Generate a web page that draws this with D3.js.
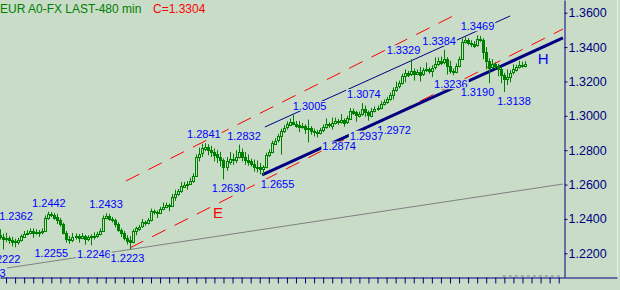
<!DOCTYPE html>
<html>
<head>
<meta charset="utf-8">
<script src="https://cdn.jsdelivr.net/npm/d3@7"></script>
<style>
  body { margin: 0; background: #c8dcc8; }
  svg { display: block; }
  text { font-family: "Liberation Sans", Arial, sans-serif; }
</style>
</head>
<body>
<svg id="chart" width="620" height="290"></svg>
<script>
// 8-hour EUR bars, one per 8h session (index = bar number)
var opens = [1.2305,1.2295,1.2285,1.2290,1.2280,1.2270,1.2265,1.2275,1.2300,1.2315,
1.2320,1.2330,1.2318,1.2325,1.2322,1.2330,1.2405,1.2430,1.2425,1.2410,
1.2395,1.2370,1.2320,1.2285,1.2280,1.2295,1.2300,1.2290,1.2300,1.2285,
1.2295,1.2300,1.2298,1.2310,1.2330,1.2405,1.2415,1.2400,1.2395,1.2370,
1.2335,1.2320,1.2290,1.2275,1.2265,1.2330,1.2345,1.2355,1.2380,1.2375,
1.2395,1.2445,1.2440,1.2435,1.2460,1.2470,1.2480,1.2475,1.2530,1.2545,
1.2560,1.2590,1.2600,1.2605,1.2620,1.2650,1.2760,1.2780,1.2810,1.2820,
1.2800,1.2790,1.2775,1.2760,1.2740,1.2700,1.2735,1.2750,1.2745,1.2760,
1.2790,1.2760,1.2745,1.2735,1.2720,1.2705,1.2700,1.2690,1.2700,1.2770,
1.2790,1.2840,1.2855,1.2880,1.2910,1.2930,1.2950,1.2965,1.2955,1.2945,
1.2935,1.2940,1.2925,1.2930,1.2910,1.2905,1.2900,1.2915,1.2935,1.2950,
1.2945,1.2960,1.2970,1.2965,1.2975,1.2960,1.2985,1.3030,1.3020,1.3000,
1.3010,1.3040,1.3020,1.3000,1.3030,1.3040,1.3045,1.3070,1.3080,1.3095,
1.3120,1.3150,1.3170,1.3190,1.3230,1.3250,1.3240,1.3260,1.3245,1.3255,
1.3240,1.3265,1.3270,1.3260,1.3280,1.3300,1.3320,1.3310,1.3330,1.3290,
1.3260,1.3255,1.3290,1.3330,1.3430,1.3440,1.3425,1.3420,1.3410,1.3445,
1.3440,1.3370,1.3320,1.3280,1.3300,1.3290,1.3275,1.3240,1.3215,1.3225,
1.3250,1.3270,1.3285,1.3295,1.3290];

var highs = [1.2340,1.2315,1.2320,1.2300,1.2295,1.2285,1.2290,1.2310,1.2330,1.2335,
1.2345,1.2345,1.2340,1.2335,1.2345,1.2420,1.2442,1.2440,1.2435,1.2430,
1.2405,1.2378,1.2330,1.2300,1.2318,1.2315,1.2312,1.2318,1.2308,1.2305,
1.2310,1.2322,1.2325,1.2345,1.2420,1.2433,1.2430,1.2412,1.2402,1.2380,
1.2345,1.2330,1.2305,1.2300,1.2340,1.2355,1.2365,1.2400,1.2390,1.2405,
1.2460,1.2455,1.2450,1.2470,1.2495,1.2495,1.2490,1.2545,1.2570,1.2575,
1.2615,1.2615,1.2620,1.2640,1.2665,1.2775,1.2815,1.2838,1.2841,1.2835,
1.2825,1.2810,1.2800,1.2790,1.2752,1.2760,1.2790,1.2780,1.2800,1.2832,
1.2810,1.2790,1.2775,1.2750,1.2745,1.2740,1.2725,1.2712,1.2785,1.2805,
1.2855,1.2870,1.2895,1.2925,1.2945,1.2968,1.2985,1.3005,1.2970,1.2970,
1.2958,1.2950,1.2978,1.2940,1.2925,1.2918,1.2930,1.2950,1.2985,1.2962,
1.2990,1.2990,1.2982,1.3010,1.2985,1.3000,1.3045,1.3042,1.3030,1.3025,
1.3074,1.3060,1.3030,1.3045,1.3055,1.3060,1.3085,1.3095,1.3110,1.3135,
1.3165,1.3200,1.3205,1.3245,1.3270,1.3262,1.3329,1.3275,1.3270,1.3285,
1.3280,1.3310,1.3282,1.3295,1.3340,1.3340,1.3345,1.3384,1.3342,1.3320,
1.3275,1.3305,1.3345,1.3450,1.3458,1.3452,1.3440,1.3435,1.3469,1.3465,
1.3452,1.3400,1.3335,1.3330,1.3312,1.3302,1.3285,1.3250,1.3270,1.3265,
1.3300,1.3298,1.3320,1.3315,1.3318];

var lows = [1.2280,1.2222,1.2265,1.2255,1.2240,1.2235,1.2250,1.2268,1.2290,1.2305,
1.2310,1.2290,1.2308,1.2295,1.2310,1.2325,1.2395,1.2410,1.2395,1.2370,
1.2355,1.2310,1.2262,1.2255,1.2265,1.2280,1.2262,1.2282,1.2250,1.2270,
1.2246,1.2280,1.2290,1.2305,1.2325,1.2398,1.2390,1.2380,1.2350,1.2325,
1.2295,1.2275,1.2250,1.2223,1.2258,1.2305,1.2330,1.2348,1.2360,1.2368,
1.2385,1.2425,1.2405,1.2428,1.2450,1.2462,1.2445,1.2470,1.2505,1.2535,
1.2552,1.2580,1.2570,1.2598,1.2610,1.2645,1.2735,1.2760,1.2795,1.2770,
1.2760,1.2735,1.2725,1.2705,1.2630,1.2680,1.2715,1.2715,1.2725,1.2752,
1.2735,1.2715,1.2710,1.2705,1.2675,1.2670,1.2660,1.2655,1.2695,1.2760,
1.2782,1.2830,1.2845,1.2775,1.2900,1.2920,1.2940,1.2945,1.2930,1.2905,
1.2925,1.2895,1.2845,1.2890,1.2880,1.2874,1.2892,1.2905,1.2925,1.2930,
1.2920,1.2950,1.2948,1.2955,1.2937,1.2952,1.2978,1.3005,1.2965,1.2990,
1.3000,1.2995,1.2972,1.2992,1.3020,1.3030,1.3038,1.3060,1.3070,1.3088,
1.3095,1.3140,1.3160,1.3182,1.3195,1.3225,1.3232,1.3205,1.3238,1.3200,
1.3232,1.3255,1.3245,1.3225,1.3270,1.3290,1.3295,1.3300,1.3240,1.3245,
1.3236,1.3248,1.3282,1.3325,1.3420,1.3410,1.3400,1.3395,1.3402,1.3430,
1.3330,1.3270,1.3190,1.3270,1.3272,1.3230,1.3190,1.3138,1.3180,1.3195,
1.3240,1.3258,1.3275,1.3280,1.3282];

var closes = [1.2295,1.2285,1.2290,1.2280,1.2270,1.2265,1.2275,1.2300,1.2315,1.2320,
1.2330,1.2318,1.2325,1.2322,1.2330,1.2405,1.2430,1.2425,1.2410,1.2395,
1.2370,1.2320,1.2285,1.2280,1.2295,1.2300,1.2290,1.2300,1.2285,1.2295,
1.2300,1.2298,1.2310,1.2330,1.2405,1.2415,1.2400,1.2395,1.2370,1.2335,
1.2320,1.2290,1.2275,1.2265,1.2330,1.2345,1.2355,1.2380,1.2375,1.2395,
1.2445,1.2440,1.2435,1.2460,1.2470,1.2480,1.2475,1.2530,1.2545,1.2560,
1.2590,1.2600,1.2605,1.2620,1.2650,1.2760,1.2780,1.2810,1.2820,1.2800,
1.2790,1.2775,1.2760,1.2740,1.2700,1.2735,1.2750,1.2745,1.2760,1.2790,
1.2760,1.2745,1.2735,1.2720,1.2705,1.2700,1.2690,1.2700,1.2770,1.2790,
1.2840,1.2855,1.2880,1.2910,1.2930,1.2950,1.2965,1.2955,1.2945,1.2935,
1.2940,1.2925,1.2930,1.2910,1.2905,1.2900,1.2915,1.2935,1.2950,1.2945,
1.2960,1.2970,1.2965,1.2975,1.2960,1.2985,1.3030,1.3020,1.3000,1.3010,
1.3040,1.3020,1.3000,1.3030,1.3040,1.3045,1.3070,1.3080,1.3095,1.3120,
1.3150,1.3170,1.3190,1.3230,1.3250,1.3240,1.3260,1.3245,1.3255,1.3240,
1.3265,1.3270,1.3260,1.3280,1.3300,1.3320,1.3310,1.3330,1.3290,1.3260,
1.3255,1.3290,1.3330,1.3430,1.3440,1.3425,1.3420,1.3410,1.3445,1.3440,
1.3370,1.3320,1.3280,1.3300,1.3290,1.3275,1.3240,1.3215,1.3225,1.3250,
1.3270,1.3285,1.3295,1.3290,1.3304];

// right axis ticks
var priceTicks = [1.22, 1.24, 1.26, 1.28, 1.30, 1.32, 1.34, 1.36];

// swing labels: value and the bar they sit on
var highLabels = [1.2362, 1.2442, 1.2433, 1.2841, 1.2832, 1.3005, 1.3074, 1.3329, 1.3384, 1.3469];
var highLabelBars = [5.3, 16.2, 35.1, 67.5, 80.8, 102.5, 120.5, 133.6, 145.4, 158.1];
var lowLabels = [1.2222, 1.2255, 1.2246, 1.2223, 1.2630, 1.2655, 1.2874, 1.2972, 1.2937, 1.3236, 1.3190, 1.3138];
var lowLabelBars = [1.2, 17, 31.1, 42.2, 75.7, 91.9, 112.3, 130.5, 121.4, 149.3, 158.1, 170.2];

// drawn trend lines, [start bar, end bar] and [start price, end price]
var upperRedBars = [41.7, 150], upperRedPrices = [1.2621, 1.3581];
var lowerRedBars = [43, 186.4], lowerRedPrices = [1.2231, 1.3505];
var thickBlueBars = [86.8, 186.4], thickBluePrices = [1.2656, 1.3453];
var thinBlueBars = [87.7, 168.9], thinBluePrices = [1.2935, 1.3581];
var grayBars = [2.3, 186.4], grayPrices = [1.2114, 1.2603];
var bottomDashBars = [166.5, 185.4], bottomDashPrices = [1.2068, 1.2068];

var bg = "#c8dcc8";
var barGreen = "#008000";
var plotRight = 564, plotBottom = 277, frameRight = 617;

var svg = d3.select("#chart");
svg.append("rect").attr("width", 620).attr("height", 290).attr("fill", bg);

var x = d3.scaleLinear().domain([0, 204.3]).range([0, frameRight]);
var y = d3.scaleLinear().domain([1.2062, 1.3674]).range([plotBottom, 0]);

svg.append("clipPath").attr("id", "plotClip")
    .append("rect").attr("x", 0).attr("y", 0).attr("width", plotRight).attr("height", plotBottom);

var plot = svg.append("g").attr("clip-path", "url(#plotClip)");

function drawLine(bars, prices, color, width, dash){
    var pts = [[bars[0], prices[0]], [bars[1], prices[1]]];
    plot.append("path")
        .attr("d", d3.line().x(function(d){ return x(d[0]); }).y(function(d){ return y(d[1]); })(pts))
        .attr("fill", "none")
        .attr("stroke", color)
        .attr("stroke-width", width)
        .attr("stroke-dasharray", dash);
}

// trend lines
drawLine(grayBars, grayPrices, "#808080", 1, null);
drawLine(bottomDashBars, bottomDashPrices, "#808080", 1, "3,3");
drawLine(upperRedBars, upperRedPrices, "#ff0000", 1, "15,10");
drawLine(lowerRedBars, lowerRedPrices, "#ff0000", 1, "15,10");
drawLine(thinBlueBars, thinBluePrices, "#000080", 1, null);
drawLine(thickBlueBars, thickBluePrices, "#000080", 3, null);

// candles: wick, then body (up candles hollow, down candles filled)
var bars = closes.map(function(c, i){ return {i: i, o: opens[i], h: highs[i], l: lows[i], c: c}; });
function cx(d){ return Math.round(x(d.i)); }

plot.selectAll(".wick")
    .data(bars)
    .enter().append("line")
    .attr("class", "wick")
    .attr("x1", function(d){ return cx(d) + 0.5; })
    .attr("x2", function(d){ return cx(d) + 0.5; })
    .attr("y1", function(d){ return y(d.h); })
    .attr("y2", function(d){ return y(d.l); })
    .attr("stroke", barGreen)
    .attr("stroke-width", 1);

plot.selectAll(".body")
    .data(bars)
    .enter().append("rect")
    .attr("class", "body")
    .attr("x", function(d){ return cx(d) - 0.5; })
    .attr("y", function(d){ return Math.round(y(Math.max(d.o, d.c))) + 0.5; })
    .attr("width", 2)
    .attr("height", function(d){ return Math.max(1, Math.round(Math.abs(y(d.o) - y(d.c)))); })
    .attr("fill", function(d){ return d.c >= d.o ? bg : barGreen; })
    .attr("stroke", barGreen)
    .attr("stroke-width", 1);

// label helper: text with a background box that hides the lines under it
function boxedText(parent, tx, ty, str, color, size, anchor){
    var g = parent.append("g");
    var r = g.append("rect").attr("fill", bg);
    var t = g.append("text")
        .attr("x", tx).attr("y", ty)
        .attr("text-anchor", anchor)
        .attr("font-size", size)
        .attr("fill", color)
        .text(str);
    var bb = t.node().getBBox();
    r.attr("x", bb.x - 1).attr("y", bb.y + 1).attr("width", bb.width + 2).attr("height", bb.height - 2);
}

var labels = svg.append("g").attr("clip-path", "url(#plotClip)");
var fmt = d3.format(".4f");

highLabels.forEach(function(v, k){
    boxedText(labels, x(highLabelBars[k]), y(v) - 5, fmt(v), "#0000ff", 11, "middle");
});
lowLabels.forEach(function(v, k){
    boxedText(labels, x(lowLabelBars[k]), y(v) + 13, fmt(v), "#0000ff", 11, "middle");
});

// cut-off label at the start of the gray line
labels.append("text").attr("x", 5.5).attr("y", 277).attr("text-anchor", "end")
    .attr("font-size", 11).attr("fill", "#0000ff").text("3");

// line names E and H
function priceOnLine(bars, prices, b){
    return prices[0] + (prices[1] - prices[0]) * (b - bars[0]) / (bars[1] - bars[0]);
}
boxedText(labels, x(70.5), y(priceOnLine(lowerRedBars, lowerRedPrices, 70.5)) + 12, "E", "#ff0000", 15, "start");
boxedText(labels, x(178.1), y(priceOnLine(thickBlueBars, thickBluePrices, 178.1)) + 15, "H", "#0000ff", 15, "start");

// right price axis
var yAxis = d3.axisRight(y)
    .tickValues(priceTicks)
    .tickFormat(d3.format(".4f"))
    .tickSize(3)
    .tickSizeOuter(0)
    .tickPadding(1);

var gy = svg.append("g")
    .attr("transform", "translate(" + (plotRight + 0.5) + ",0)")
    .call(yAxis);
gy.select(".domain").attr("stroke", "#000080");
gy.selectAll(".tick line").attr("stroke", "#000080");
gy.selectAll(".tick text")
    .attr("fill", "#000080")
    .attr("font-size", 12.5)
    .attr("font-family", "'Liberation Sans', Arial, sans-serif");

// bottom time axis, one tick per day (3 bars)
var dayTicks = d3.range(2, 186, 3);
var xAxis = d3.axisBottom(x)
    .tickValues(dayTicks)
    .tickFormat("")
    .tickSize(6)
    .tickSizeOuter(0);

var gx = svg.append("g")
    .attr("transform", "translate(0," + (plotBottom + 0.5) + ")")
    .call(xAxis);
gx.select(".domain").attr("stroke", "#000080");
gx.selectAll(".tick line").attr("stroke", "#000080");

// right frame edge
svg.append("line")
    .attr("x1", frameRight + 0.5).attr("x2", frameRight + 0.5)
    .attr("y1", 0).attr("y2", plotBottom)
    .attr("stroke", "#e8f0e8");

// title
var title = svg.append("text").attr("x", 0).attr("y", 13).attr("font-size", 12);
title.append("tspan").attr("fill", "#008000").text("EUR A0-FX LAST-480 min");
title.append("tspan").attr("fill", "#ff0000").attr("x", 153).text("C=" + fmt(closes[closes.length - 1]));
</script>
</body>
</html>
